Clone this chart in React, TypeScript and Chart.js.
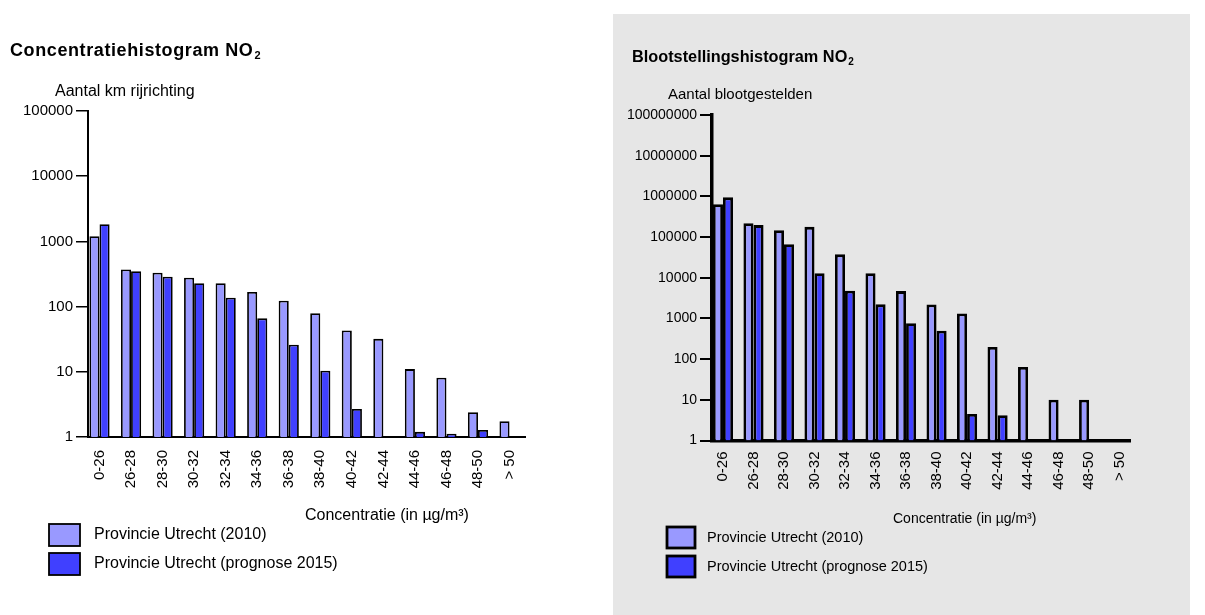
import React, { useEffect, useRef } from "react";
import { Chart, registerables } from "chart.js";

Chart.register(...registerables);

const categories = [
  "0-26", "26-28", "28-30", "30-32", "32-34", "34-36", "36-38",
  "38-40", "40-42", "42-44", "44-46", "46-48", "48-50", "> 50",
];
const seriesLabels = ["Provincie Utrecht (2010)", "Provincie Utrecht (prognose 2015)"];

const kmTickValues = [1, 10, 100, 1000, 10000, 100000];
const km2010 = [1200, 370, 330, 277, 228, 168, 123, 79, 43, 32, 11, 8.1, 2.4, 1.75];
const km2015 = [1830, 350, 287, 228, 137, 66, 26, 10.4, 2.7, null, 1.2, 1.12, 1.28, null];

const exposureTickValues = [1, 10, 100, 1000, 10000, 100000, 1000000, 10000000, 100000000];
const exposed2010 = [640000, 218000, 148000, 178000, 37600, 12900, 4700, 2200, 1330, 200, 64, 10, 10, null];
const exposed2015 = [945000, 197000, 67000, 12900, 4800, 2220, 760, 500, 4.5, 4.2, null, null, null, null];

const FONT = '"Liberation Sans", Arial, Helvetica, sans-serif';
const LIGHT = "#9999ff";
const DARK = "#4040ff";

type Txt = { text: string; x: number; y: number; size: number; bold?: boolean; spacing?: number; sub?: string };

type Spec = {
  width: number;
  height: number;
  area: { left: number; top: number; right: number; bottom: number };
  xMin: number;
  xMax: number;
  yTicks: number[];
  values: (number | null)[][];
  barBorder: number;
  axisWidth: number;
  tickWidth: number;
  yTickSize: number;
  xTickSize: number;
  xTickPad: number;
  catPct: number;
  title: Txt;
  yTitle: Txt;
  xTitle: Txt;
  legend: { x: number; y: number[]; boxW: number; boxH: number; border: number; textX: number; textDy: number; size: number };
};

const leftSpec: Spec = {
  width: 610,
  height: 615,
  area: { left: 88, top: 111, right: 525, bottom: 437 },
  xMin: -0.365,
  xMax: 13.49,
  yTicks: kmTickValues,
  values: [km2010, km2015],
  barBorder: 1.8,
  axisWidth: 2,
  tickWidth: 1.5,
  yTickSize: 15,
  xTickSize: 15,
  xTickPad: 13,
  catPct: 0.64,
  title: { text: "Concentratiehistogram NO", sub: "2", x: 10, y: 56, size: 18, bold: true, spacing: 0.6 },
  yTitle: { text: "Aantal km rijrichting", x: 55, y: 96, size: 16 },
  xTitle: { text: "Concentratie (in µg/m³)", x: 305, y: 520, size: 16 },
  legend: { x: 49, y: [524, 553], boxW: 31, boxH: 22, border: 1.8, textX: 94, textDy: 15, size: 16 },
};

const rightSpec: Spec = {
  width: 577,
  height: 601,
  area: { left: 99, top: 101, right: 517, bottom: 426.5 },
  xMin: -0.36,
  xMax: 13.34,
  yTicks: exposureTickValues,
  values: [exposed2010, exposed2015],
  barBorder: 2.8,
  axisWidth: 3.5,
  tickWidth: 2,
  yTickSize: 14,
  xTickSize: 15,
  xTickPad: 11,
  catPct: 0.66,
  title: { text: "Blootstellingshistogram NO", sub: "2", x: 19, y: 48, size: 16.3, bold: true },
  yTitle: { text: "Aantal blootgestelden", x: 55, y: 85, size: 15 },
  xTitle: { text: "Concentratie (in µg/m³)", x: 280, y: 509, size: 14 },
  legend: { x: 54, y: [513, 542], boxW: 28, boxH: 21, border: 2.8, textX: 94, textDy: 15, size: 14.5 },
};

function drawText(ctx: CanvasRenderingContext2D, t: Txt) {
  ctx.font = `${t.bold ? "bold " : ""}${t.size}px ${FONT}`;
  (ctx as any).letterSpacing = `${t.spacing ?? 0}px`;
  ctx.fillText(t.text, t.x, t.y);
  const w = ctx.measureText(t.text).width;
  if (t.sub) {
    ctx.font = `${t.bold ? "bold " : ""}${Math.round(t.size * 0.6)}px ${FONT}`;
    ctx.fillText(t.sub, t.x + w + 1, t.y + t.size * 0.18);
  }
  (ctx as any).letterSpacing = "0px";
}

function buildConfig(spec: Spec): any {
  const X_H = 70;
  const overlay = {
    id: "overlay",
    afterDraw(chart: any) {
      const ctx: CanvasRenderingContext2D = chart.ctx;
      ctx.save();
      ctx.fillStyle = "#000";
      ctx.textBaseline = "alphabetic";
      ctx.textAlign = "left";
      drawText(ctx, spec.title);
      drawText(ctx, spec.yTitle);
      drawText(ctx, spec.xTitle);
      const lg = spec.legend;
      chart.data.datasets.forEach((ds: any, i: number) => {
        const y = lg.y[i];
        ctx.fillStyle = ds.backgroundColor;
        ctx.fillRect(lg.x, y, lg.boxW, lg.boxH);
        ctx.strokeStyle = "#000";
        ctx.lineWidth = lg.border;
        ctx.strokeRect(lg.x, y, lg.boxW, lg.boxH);
        ctx.fillStyle = "#000";
        drawText(ctx, { text: ds.label, x: lg.textX, y: y + lg.textDy, size: lg.size });
      });
      ctx.restore();
    },
  };

  const datasets = spec.values.map((vals, k) => ({
    label: seriesLabels[k],
    data: vals.map((v, i) => ({ x: i, y: v })),
    backgroundColor: k === 0 ? LIGHT : DARK,
    borderColor: "#000",
    borderWidth: spec.barBorder,
    borderSkipped: "start",
    categoryPercentage: spec.catPct,
    barPercentage: 1,
  }));

  const yt = spec.yTicks;
  return {
    type: "bar",
    data: { datasets },
    plugins: [overlay],
    options: {
      responsive: false,
      maintainAspectRatio: false,
      animation: false,
      layout: {
        padding: {
          left: 0,
          top: spec.area.top,
          right: spec.width - spec.area.right,
          bottom: spec.height - spec.area.bottom - X_H,
        },
      },
      plugins: { legend: { display: false }, tooltip: { enabled: false }, title: { display: false } },
      scales: {
        x: {
          type: "linear",
          min: spec.xMin,
          max: spec.xMax,
          offset: false,
          afterBuildTicks: (s: any) => {
            s.ticks = categories.map((_, i) => ({ value: i }));
          },
          afterFit: (s: any) => {
            s.height = X_H;
          },
          grid: { display: false, drawTicks: false },
          border: { display: true, color: "#000", width: spec.axisWidth },
          ticks: {
            autoSkip: false,
            maxRotation: 90,
            minRotation: 90,
            padding: spec.xTickPad,
            color: "#000",
            font: { family: FONT, size: spec.xTickSize },
            callback: (v: number) => categories[Math.round(v)] ?? "",
          },
        },
        y: {
          type: "logarithmic",
          min: yt[0],
          max: yt[yt.length - 1],
          afterBuildTicks: (s: any) => {
            s.ticks = yt.map((v) => ({ value: v }));
          },
          afterFit: (s: any) => {
            s.width = spec.area.left;
          },
          grid: { drawOnChartArea: false, drawTicks: true, tickLength: 12, color: "#000", lineWidth: spec.tickWidth },
          border: { display: true, color: "#000", width: spec.axisWidth },
          ticks: {
            color: "#000",
            padding: 3,
            font: { family: FONT, size: spec.yTickSize },
            callback: (v: number) => String(v),
          },
        },
      },
    },
  };
}

function Panel({ spec }: { spec: Spec }) {
  const ref = useRef<HTMLCanvasElement>(null);
  useEffect(() => {
    const chart = new Chart(ref.current as HTMLCanvasElement, buildConfig(spec));
    return () => chart.destroy();
  }, [spec]);
  return (
    <canvas
      ref={ref}
      width={spec.width}
      height={spec.height}
      style={{ display: "block", width: spec.width, height: spec.height }}
    />
  );
}

export default function App() {
  return (
    <div style={{ position: "fixed", left: 0, top: 0, width: 1205, height: 615, background: "#fff", overflow: "hidden" }}>
      <div style={{ position: "absolute", left: 0, top: 0 }}>
        <Panel spec={leftSpec} />
      </div>
      <div style={{ position: "absolute", left: 613, top: 14, width: 577, height: 601, background: "#e6e6e6" }}>
        <Panel spec={rightSpec} />
      </div>
    </div>
  );
}
